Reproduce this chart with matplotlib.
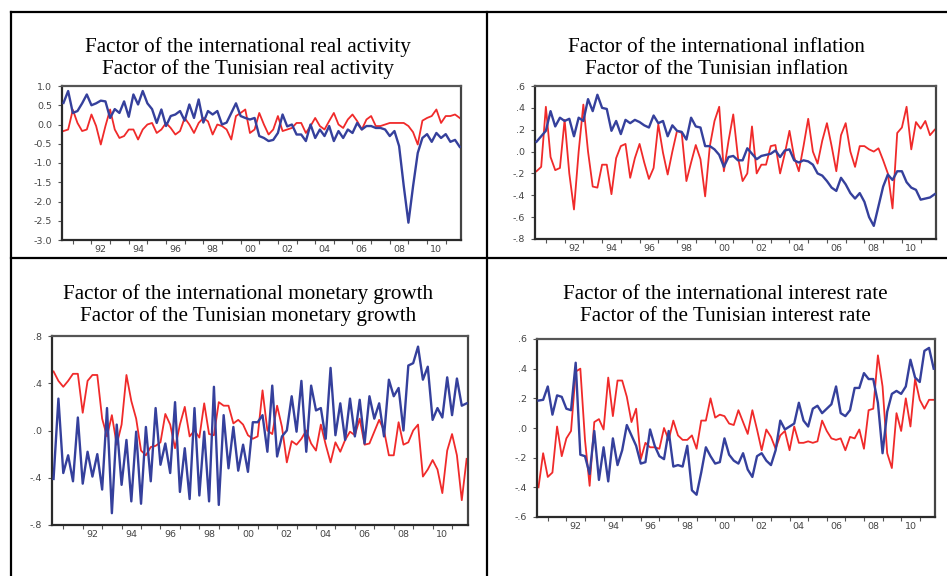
import matplotlib
matplotlib.use("Agg")
import matplotlib.pyplot as plt
from matplotlib.lines import Line2D
import numpy as np

# ---------------- data (quarterly, 1990Q3 - 2011Q4) ----------------
start_year = 1990.5
n_obs = 86

real_intl = [0.56, 0.87, 0.30, 0.35, 0.55, 0.78, 0.50, 0.55, 0.62, 0.60,
             0.17, 0.40, 0.30, 0.60, 0.20, 0.78, 0.52, 0.87, 0.55, 0.40,
             0.04, 0.39, -0.04, 0.22, 0.26, 0.35, 0.10, 0.52, 0.17, 0.65,
             0.05, 0.35, 0.26, 0.35, 0.00, 0.05, 0.30, 0.55, 0.22, 0.17,
             0.13, 0.17, -0.30, -0.35, -0.43, -0.40, -0.22, 0.26, -0.05, 0.00,
             -0.26, -0.26, -0.43, 0.00, -0.35, -0.13, -0.30, -0.04, -0.43, -0.17,
             -0.35, -0.13, -0.22, 0.04, -0.13, -0.04, -0.04, -0.09, -0.09, -0.13,
             -0.30, -0.17, -0.56, -1.60, -2.55, -1.60, -0.74, -0.35, -0.25, -0.45,
             -0.22, -0.35, -0.25, -0.45, -0.40, -0.58]
real_tun = [-0.17, -0.13, 0.38, 0.04, -0.17, -0.13, 0.26, -0.04, -0.52, -0.04,
            0.39, -0.13, -0.35, -0.30, -0.13, -0.13, -0.39, -0.13, 0.00, 0.04,
            -0.22, -0.13, 0.04, -0.09, -0.26, -0.17, 0.17, 0.00, -0.22, 0.04,
            0.17, 0.08, -0.26, 0.00, -0.04, -0.13, -0.39, 0.22, 0.30, 0.39,
            -0.22, -0.13, 0.30, 0.00, -0.26, -0.13, 0.22, -0.17, -0.13, -0.09,
            0.04, 0.04, -0.22, -0.04, 0.17, -0.04, -0.13, 0.09, 0.30, 0.00,
            -0.09, 0.13, 0.26, 0.09, -0.13, 0.13, 0.22, -0.04, -0.04, 0.00,
            0.04, 0.04, 0.04, 0.04, -0.04, -0.20, -0.52, 0.10, 0.17, 0.22,
            0.39, 0.04, 0.22, 0.22, 0.26, 0.17]

infl_intl = [0.09, 0.14, 0.19, 0.37, 0.23, 0.31, 0.28, 0.30, 0.14, 0.31,
             0.28, 0.48, 0.37, 0.52, 0.40, 0.39, 0.19, 0.28, 0.16, 0.29,
             0.26, 0.29, 0.27, 0.24, 0.22, 0.33, 0.26, 0.28, 0.14, 0.24,
             0.19, 0.18, 0.11, 0.31, 0.23, 0.22, 0.05, 0.05, 0.02, -0.03,
             -0.14, -0.05, -0.04, -0.08, -0.08, 0.03, -0.02, -0.07, -0.04, -0.03,
             -0.02, 0.01, -0.05, 0.01, 0.02, -0.08, -0.10, -0.08, -0.09, -0.12,
             -0.20, -0.22, -0.27, -0.33, -0.36, -0.24, -0.30, -0.38, -0.43, -0.38,
             -0.46, -0.60, -0.68, -0.50, -0.32, -0.21, -0.26, -0.18, -0.18, -0.28,
             -0.33, -0.35, -0.44, -0.43, -0.42, -0.39]
infl_tun = [-0.18, -0.14, 0.41, -0.05, -0.17, -0.15, 0.29, -0.20, -0.53, 0.00,
            0.43, 0.00, -0.32, -0.33, -0.12, -0.12, -0.39, -0.06, 0.05, 0.07,
            -0.24, -0.06, 0.07, -0.10, -0.25, -0.15, 0.25, -0.01, -0.21, 0.00,
            0.19, 0.17, -0.27, -0.10, 0.06, -0.07, -0.41, 0.05, 0.28, 0.41,
            -0.18, 0.10, 0.34, -0.05, -0.27, -0.20, 0.23, -0.20, -0.12, -0.12,
            0.05, 0.06, -0.20, -0.02, 0.19, -0.05, -0.18, 0.05, 0.30, 0.00,
            -0.11, 0.10, 0.26, 0.05, -0.18, 0.15, 0.26, 0.00, -0.14, 0.05,
            0.05, 0.02, 0.00, 0.03, -0.08, -0.20, -0.52, 0.17, 0.22, 0.41,
            0.02, 0.27, 0.21, 0.28, 0.15, 0.20]

money_intl = [-0.41, 0.27, -0.36, -0.21, -0.43, 0.11, -0.45, -0.18, -0.39, -0.20,
              -0.50, 0.19, -0.70, 0.05, -0.46, -0.08, -0.60, -0.01, -0.62, 0.03,
              -0.43, 0.19, -0.29, -0.11, -0.36, 0.24, -0.52, -0.15, -0.58, 0.19,
              -0.55, -0.01, -0.60, 0.37, -0.63, 0.13, -0.32, 0.03, -0.34, -0.12,
              -0.35, 0.07, 0.07, 0.13, -0.18, 0.38, -0.22, -0.05, 0.00, 0.29,
              -0.01, 0.42, -0.18, 0.38, 0.17, 0.19, -0.07, 0.53, -0.04, 0.23,
              -0.08, 0.27, -0.05, 0.26, -0.11, 0.29, 0.10, 0.23, -0.05, 0.43,
              0.29, 0.36, 0.00, 0.55, 0.57, 0.71, 0.43, 0.54, 0.09, 0.19,
              0.11, 0.45, 0.13, 0.44, 0.21, 0.23]
money_tun = [0.50, 0.42, 0.37, 0.42, 0.48, 0.48, 0.15, 0.42, 0.47, 0.47,
             0.10, -0.05, 0.13, -0.12, 0.05, 0.47, 0.25, 0.10, -0.17, -0.21,
             -0.14, -0.13, -0.10, 0.14, 0.05, -0.15, 0.05, 0.20, -0.05, 0.00,
             -0.06, 0.23, -0.03, -0.04, 0.24, 0.21, 0.21, 0.06, 0.09, 0.05,
             -0.04, -0.07, -0.05, 0.34, 0.00, -0.03, 0.21, 0.03, -0.27, -0.09,
             -0.12, -0.07, 0.00, -0.11, -0.17, 0.05, -0.12, -0.27, -0.10, -0.18,
             -0.08, -0.01, -0.04, 0.10, -0.12, -0.11, -0.01, 0.09, 0.00, -0.21,
             -0.21, 0.07, -0.12, -0.10, 0.00, 0.05, -0.39, -0.33, -0.25, -0.33,
             -0.53, -0.17, -0.03, -0.21, -0.59, -0.24]

rate_intl = [0.185, 0.19, 0.28, 0.09, 0.22, 0.21, 0.13, 0.12, 0.44, -0.18,
             -0.19, -0.31, -0.02, -0.35, -0.13, -0.36, -0.07, -0.25, -0.15, 0.02,
             -0.05, -0.12, -0.24, -0.23, -0.01, -0.12, -0.19, -0.21, -0.02, -0.26,
             -0.25, -0.26, -0.12, -0.42, -0.45, -0.30, -0.13, -0.19, -0.24, -0.23,
             -0.07, -0.18, -0.22, -0.24, -0.17, -0.28, -0.33, -0.19, -0.17, -0.22,
             -0.25, -0.15, 0.05, -0.01, 0.01, 0.03, 0.17, 0.05, 0.01, 0.13,
             0.15, 0.10, 0.13, 0.16, 0.28, 0.10, 0.08, 0.12, 0.27, 0.27,
             0.37, 0.33, 0.33, 0.17, -0.17, 0.11, 0.23, 0.25, 0.23, 0.28,
             0.46, 0.34, 0.31, 0.52, 0.54, 0.40]
rate_tun = [-0.40, -0.17, -0.33, -0.30, 0.01, -0.19, -0.07, -0.02, 0.38, 0.40,
            -0.08, -0.39, 0.04, 0.06, -0.01, 0.34, 0.08, 0.32, 0.32, 0.21,
            0.04, 0.13, -0.21, -0.10, -0.13, -0.13, -0.14, 0.00, -0.08, 0.05,
            -0.05, -0.08, -0.08, -0.05, -0.14, 0.05, 0.05, 0.20, 0.07, 0.09,
            0.08, 0.03, 0.02, 0.12, 0.04, -0.04, 0.12, -0.01, -0.15, -0.01,
            -0.06, -0.14, -0.05, -0.02, -0.15, 0.01, -0.10, -0.10, -0.09, -0.10,
            -0.09, 0.05, -0.02, -0.07, -0.08, -0.07, -0.15, -0.06, -0.07, -0.01,
            -0.14, 0.12, 0.13, 0.49, 0.28, -0.17, -0.27, 0.10, -0.02, 0.20,
            0.01, 0.33, 0.19, 0.13, 0.19, 0.19]

titles = [
    ("Factor of the international real activity", "Factor of the Tunisian real activity"),
    ("Factor of the international inflation", "Factor of the Tunisian inflation"),
    ("Factor of the international monetary growth", "Factor of the Tunisian monetary growth"),
    ("Factor of the international interest rate", "Factor of the Tunisian interest rate"),
]

x_label_text = ["92", "94", "96", "98", "00", "02", "04", "06", "08", "10"]
x_label_years = [1992, 1994, 1996, 1998, 2000, 2002, 2004, 2006, 2008, 2010]
x_tick_years = list(range(1991, 2012))

y_ticks_1 = [1.0, 0.5, 0.0, -0.5, -1.0, -1.5, -2.0, -2.5, -3.0]
y_labels_1 = ["1.0", "0.5", "0.0", "-0.5", "-1.0", "-1.5", "-2.0", "-2.5", "-3.0"]
y_ticks_2 = [0.6, 0.4, 0.2, 0.0, -0.2, -0.4, -0.6, -0.8]
y_labels_2 = [".6", ".4", ".2", ".0", "-.2", "-.4", "-.6", "-.8"]
y_ticks_3 = [0.8, 0.4, 0.0, -0.4, -0.8]
y_labels_3 = [".8", ".4", ".0", "-.4", "-.8"]
y_ticks_4 = [0.6, 0.4, 0.2, 0.0, -0.2, -0.4, -0.6]
y_labels_4 = [".6", ".4", ".2", ".0", "-.2", "-.4", "-.6"]

# ---------------- figure ----------------
W, H = 947, 576
fig = plt.figure(figsize=(W / 100, H / 100), dpi=100)
fig.patch.set_facecolor("white")

BLUE = "#35409c"
RED = "#f02a2a"
dates = start_year + 0.25 * np.arange(n_obs)


def px_axes(left, top, right, bottom):
    return fig.add_axes([left / W, 1 - bottom / H, (right - left) / W, (bottom - top) / H])


def style(ax, yticks, ylabels, ylim):
    ax.set_xlim(1990.42, 2011.82)
    ax.set_ylim(*ylim)
    ax.set_xticks(x_tick_years)
    ax.set_xticklabels([])
    ax.set_xticks([y + 0.5 for y in x_label_years], minor=True)
    ax.set_xticklabels(x_label_text, minor=True)
    ax.tick_params(axis="x", which="major", length=3, width=0.8, color="#555555", direction="out")
    ax.tick_params(axis="x", which="minor", length=0, pad=3.5, labelsize=6.8,
                   labelcolor="#444444")
    ax.set_yticks(yticks)
    ax.set_yticklabels(ylabels)
    ax.tick_params(axis="y", length=3, width=0.8, color="#555555", direction="out",
                   pad=4, labelsize=6.8, labelcolor="#444444")
    for lab in ax.get_xticklabels(minor=True) + ax.get_yticklabels():
        lab.set_family("DejaVu Sans")
    for side in ["left", "bottom", "top", "right"]:
        ax.spines[side].set_linewidth(1.6)
        ax.spines[side].set_color("#2a2a2a")
    ax.spines["top"].set_color("#555555")
    ax.spines["right"].set_color("#444444")


panels = [
    ((62, 86, 461, 240), real_intl, real_tun, y_ticks_1, y_labels_1, (-3.0, 1.0)),
    ((535, 86, 936, 239), infl_intl, infl_tun, y_ticks_2, y_labels_2, (-0.8, 0.6)),
    ((52, 336, 468, 525), money_intl, money_tun, y_ticks_3, y_labels_3, (-0.8, 0.8)),
    ((537, 339, 935, 517), rate_intl, rate_tun, y_ticks_4, y_labels_4, (-0.6, 0.6)),
]

for rect, s_blue, s_red, yt, yl, ylim in panels:
    ax = px_axes(*rect)
    ax.plot(dates, s_blue, color=BLUE, lw=1.7, zorder=3)
    ax.plot(dates, s_red, color=RED, lw=1.3, zorder=2)
    style(ax, yt, yl, ylim)

# titles
title_pos = [(248, 52, 74), (716, 52, 74), (248, 299, 321), (725, 299, 321)]
for (l1, l2), (cx, b1, b2) in zip(titles, title_pos):
    for txt, by in ((l1, b1), (l2, b2)):
        fig.text(cx / W, 1 - by / H, txt, ha="center", va="baseline",
                 family="Liberation Serif", fontsize=15.2, color="black")

# table borders
def fig_line(x0, y0, x1, y1):
    fig.add_artist(Line2D([x0 / W, x1 / W], [1 - y0 / H, 1 - y1 / H],
                          transform=fig.transFigure, color="black", lw=1.6))

fig_line(11, 12, 947, 12)
fig_line(11, 258, 947, 258)
fig_line(11, 12, 11, 576)
fig_line(487, 12, 487, 576)

fig.savefig("out.png", dpi=100, facecolor="white")
